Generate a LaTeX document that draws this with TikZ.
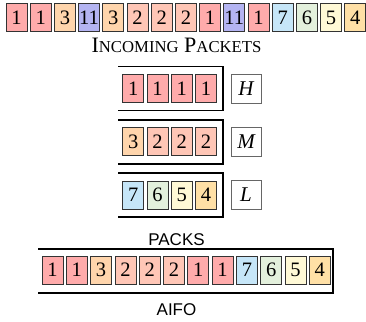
\documentclass[tikz,border=0pt]{standalone}
\usepackage{fontspec}
\setmainfont{Liberation Serif}
\newfontfamily\hvfont{Liberation Sans}
\newfontfamily\tmfont{Liberation Serif}
\definecolor{cA}{HTML}{FFABAB}% 1
\definecolor{cB}{HTML}{FFC6B6}% 2
\definecolor{cC}{HTML}{FFD5AC}% 3
\definecolor{cK}{HTML}{B4B4F2}% 11
\definecolor{cG}{HTML}{C6E6F8}% 7
\definecolor{cF}{HTML}{E3F0DC}% 6
\definecolor{cE}{HTML}{FFF9D6}% 5
\definecolor{cD}{HTML}{FFE0A6}% 4
\tikzset{
  pk/.style={draw=black!80, line width=0.8pt, minimum width=21pt, minimum height=28pt,
    inner sep=0pt, font=\tmfont\fontsize{20.5}{20.5}\selectfont},
  qbox/.style={draw=black, line width=1.7pt},
  lab/.style={draw=black!60, line width=0.8pt, fill=white, minimum width=30pt, minimum height=29pt,
    inner sep=0pt, font=\tmfont\itshape\fontsize{21}{21}\selectfont},
  captxt/.style={anchor=base, inner sep=0pt},
}
\begin{document}
\begin{tikzpicture}[x=1pt, y=-1pt]
\useasboundingbox (0,0) rectangle (366,321);
% incoming packets
\foreach \v/\c [count=\i from 0] in {1/cA,1/cA,3/cC,11/cK,3/cC,2/cB,2/cB,2/cB,1/cA,11/cK,1/cA,7/cG,6/cF,5/cE,4/cD}
  \node[pk, fill=\c] (in\i) at (16.5+\i*24.2, 17.5) {\v};
\node[captxt, font=\tmfont\fontsize{22}{22}\selectfont] (tin) at (176.5, 52.5)
  {I{\fontsize{16.7}{16.7}\selectfont NCOMING} P{\fontsize{16.7}{16.7}\selectfont ACKETS}};
% queues
\foreach \q/\yy/\lbl/\vals in {H/88.5/H/{1/cA,1/cA,1/cA,1/cA}, M/141.75/M/{3/cC,2/cB,2/cB,2/cB}, L/195/L/{7/cG,6/cF,5/cE,4/cD}}{
  \draw[qbox] (118,\yy-22) -- (223,\yy-22) -- (223,\yy+22) -- (118,\yy+22);
  \foreach \v/\c [count=\i from 0] in \vals
    \node[pk, fill=\c] (q\q\i) at (133.2+\i*24.3, \yy) {\v};
  \node[lab] (lab\q) at (246, \yy) {\lbl};
}
\node[captxt, font=\hvfont\fontsize{17}{17}\selectfont] (tpk) at (176.5, 245) {PACKS};
% AIFO
\draw[qbox] (38,249) -- (333,249) -- (333,293) -- (38,293);
\foreach \v/\c [count=\i from 0] in {1/cA,1/cA,3/cC,2/cB,2/cB,2/cB,1/cA,1/cA,7/cG,6/cF,5/cE,4/cD}
  \node[pk, fill=\c] (ai\i) at (52.5+\i*24.3, 270) {\v};
\node[captxt, font=\hvfont\fontsize{17}{17}\selectfont] (taifo) at (176.5, 315) {AIFO};
\end{tikzpicture}
\end{document}
